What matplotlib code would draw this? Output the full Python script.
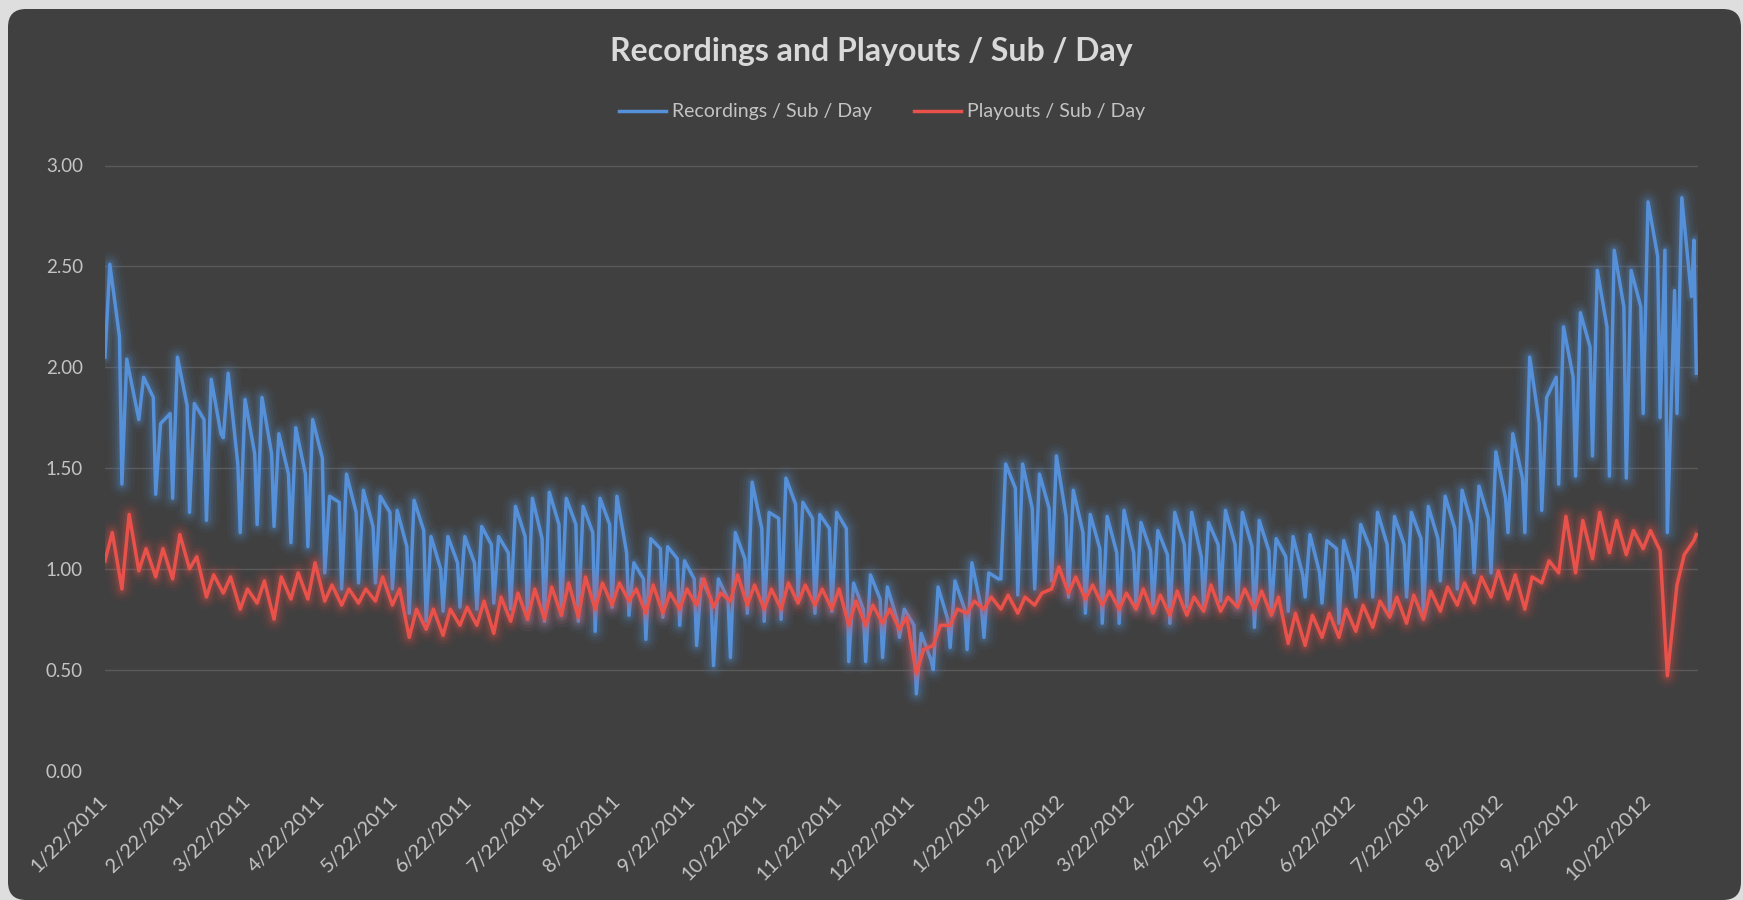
import matplotlib
matplotlib.use("Agg")
import matplotlib.pyplot as plt
import matplotlib.dates as mdates
from matplotlib.patches import FancyBboxPatch
from matplotlib.transforms import IdentityTransform
from matplotlib.lines import Line2D
import numpy as np
import pandas as pd

# first day of the data (a Saturday)
start = pd.Timestamp("2011-01-22")

# Recordings / Sub / Day, one value per week for Saturday, Monday and Friday
rec_sat = [2.05, 1.42, 1.74, 1.37, 1.35, 1.28, 1.24, 1.65, 1.18, 1.22,
           1.21, 1.13, 1.11, 0.98, 0.90, 0.93, 0.93, 0.90, 0.78, 0.74,
           0.79, 0.81, 0.80, 0.83, 0.80, 0.75, 0.74, 0.77, 0.74, 0.69,
           0.81, 0.77, 0.65, 0.76, 0.72, 0.62, 0.52, 0.56, 0.78, 0.74,
           0.75, 0.86, 0.78, 0.79, 0.54, 0.54, 0.56, 0.66, 0.38, 0.50,
           0.61, 0.60, 0.66, 0.95, 0.87, 0.90, 0.94, 0.86, 0.78, 0.73,
           0.73, 0.81, 0.79, 0.73, 0.81, 0.81, 0.84, 0.81, 0.71, 0.78,
           0.79, 0.86, 0.83, 0.73, 0.86, 0.86, 0.79, 0.86, 0.78, 0.94,
           0.90, 0.98, 0.98, 1.18, 1.18, 1.29, 1.42, 1.46, 1.56, 1.46,
           1.45, 1.77, 1.75, 1.77]
rec_mon = [2.51, 2.04, 1.95, 1.72, 2.05, 1.82, 1.94, 1.97, 1.84, 1.85,
           1.67, 1.70, 1.74, 1.36, 1.47, 1.39, 1.36, 1.29, 1.34, 1.16,
           1.16, 1.16, 1.21, 1.16, 1.31, 1.35, 1.38, 1.35, 1.31, 1.35,
           1.36, 1.03, 1.15, 1.11, 1.04, 0.95, 0.95, 1.18, 1.43, 1.28,
           1.45, 1.33, 1.27, 1.28, 0.93, 0.97, 0.91, 0.80, 0.68, 0.91,
           0.94, 1.03, 0.98, 1.52, 1.52, 1.47, 1.56, 1.39, 1.27, 1.26,
           1.29, 1.23, 1.19, 1.28, 1.28, 1.23, 1.29, 1.28, 1.24, 1.15,
           1.16, 1.17, 1.14, 1.14, 1.22, 1.28, 1.26, 1.28, 1.31, 1.36,
           1.39, 1.41, 1.58, 1.67, 2.05, 1.85, 2.20, 2.27, 2.48, 2.58,
           2.48, 2.82, 2.58, 2.84]
rec_fri = [2.15, 1.80, 1.85, 1.77, 1.81, 1.74, 1.67, 1.52, 1.57, 1.57,
           1.47, 1.47, 1.55, 1.33, 1.28, 1.21, 1.28, 1.11, 1.19, 1.00,
           1.03, 1.03, 1.12, 1.08, 1.16, 1.15, 1.22, 1.22, 1.18, 1.22,
           1.08, 0.95, 1.10, 1.05, 0.95, 0.85, 0.85, 1.05, 1.20, 1.25,
           1.32, 1.25, 1.20, 1.20, 0.80, 0.85, 0.75, 0.72, 0.55, 0.75,
           0.80, 0.80, 0.95, 1.40, 1.30, 1.30, 1.26, 1.18, 1.10, 1.08,
           1.08, 1.09, 1.07, 1.12, 1.06, 1.12, 1.12, 1.11, 1.09, 1.06,
           0.97, 0.98, 1.10, 0.98, 1.10, 1.12, 1.12, 1.15, 1.15, 1.20,
           1.22, 1.25, 1.35, 1.45, 1.72, 1.95, 1.95, 2.10, 2.20, 2.30,
           2.30, 2.55, 2.38, 2.35]

# Playouts / Sub / Day, one value per week for Saturday and Tuesday
play_sat = [1.04, 0.90, 0.99, 0.96, 0.95, 1.00, 0.86, 0.88, 0.80, 0.83,
            0.75, 0.85, 0.85, 0.84, 0.82, 0.83, 0.84, 0.82, 0.66, 0.70,
            0.67, 0.72, 0.72, 0.68, 0.74, 0.75, 0.75, 0.77, 0.76, 0.80,
            0.82, 0.84, 0.78, 0.78, 0.80, 0.82, 0.81, 0.84, 0.82, 0.80,
            0.80, 0.83, 0.82, 0.80, 0.72, 0.72, 0.73, 0.70, 0.48, 0.62,
            0.72, 0.78, 0.80, 0.80, 0.78, 0.82, 0.90, 0.88, 0.85, 0.82,
            0.80, 0.80, 0.78, 0.77, 0.77, 0.79, 0.79, 0.81, 0.80, 0.77,
            0.63, 0.62, 0.66, 0.66, 0.69, 0.71, 0.76, 0.73, 0.75, 0.79,
            0.82, 0.83, 0.86, 0.85, 0.80, 0.93, 0.98, 0.98, 1.05, 1.08,
            1.07, 1.10, 1.09, 0.92]
play_tue = [1.18, 1.27, 1.10, 1.10, 1.17, 1.06, 0.97, 0.96, 0.90, 0.94,
            0.96, 0.98, 1.03, 0.92, 0.90, 0.90, 0.96, 0.90, 0.80, 0.80,
            0.80, 0.81, 0.84, 0.86, 0.88, 0.90, 0.91, 0.93, 0.96, 0.93,
            0.93, 0.90, 0.92, 0.88, 0.90, 0.95, 0.88, 0.97, 0.92, 0.90,
            0.93, 0.92, 0.90, 0.90, 0.84, 0.82, 0.80, 0.76, 0.60, 0.72,
            0.80, 0.84, 0.86, 0.87, 0.86, 0.88, 1.01, 0.96, 0.92, 0.89,
            0.88, 0.90, 0.87, 0.89, 0.86, 0.92, 0.86, 0.90, 0.89, 0.86,
            0.78, 0.77, 0.78, 0.80, 0.82, 0.84, 0.86, 0.87, 0.89, 0.91,
            0.93, 0.96, 0.99, 0.97, 0.96, 1.04, 1.26, 1.24, 1.28, 1.24,
            1.19, 1.19, 0.47, 1.07]

# storm day (recordings drop) and the last two days of data
storm_dates = ["2012-10-30"]
rec_storm = [1.18]
tail_dates = ["2012-11-10", "2012-11-11"]
rec_tail = [2.63, 1.97]
play_tail = [1.14, 1.17]

# x axis labels on the 22nd of every month
tick_dates = pd.date_range("2011-01-22", "2012-10-22", freq=pd.DateOffset(months=1))

title = "Recordings and Playouts / Sub / Day"
rec_name = "Recordings / Sub / Day"
play_name = "Playouts / Sub / Day"

BLUE = "#5590d8"
RED = "#e8524a"
TEXT = "#c4c4c4"


def weekly_series(columns, offsets):
    parts = []
    for vals, off in zip(columns, offsets):
        days = start + pd.to_timedelta(np.arange(len(vals)) * 7 + off, unit="D")
        parts.append(pd.Series(vals, index=days))
    return parts


def extra(dates, vals):
    return pd.Series(vals, index=pd.to_datetime(dates))


rec = pd.concat(weekly_series([rec_sat, rec_mon, rec_fri], [0, 2, 6])
                + [extra(storm_dates, rec_storm), extra(tail_dates, rec_tail)]).sort_index()
play = pd.concat(weekly_series([play_sat, play_tue], [0, 3])
                 + [extra(tail_dates, play_tail)]).sort_index()


def glow_line(ax, s, color, z):
    x = mdates.date2num(s.index.to_pydatetime())
    y = s.values
    # soft halo like the Excel glow effect
    for lw, a in [(18, 0.05), (13, 0.07), (9, 0.10), (6, 0.15)]:
        ax.plot(x, y, color=color, lw=lw, alpha=a, solid_joinstyle="round",
                solid_capstyle="round", zorder=z)
    ax.plot(x, y, color=color, lw=2.5, solid_joinstyle="round", zorder=z + 1)


plt.rcParams["font.family"] = ["Lato", "DejaVu Sans"]

fig = plt.figure(figsize=(17.43, 9.0), dpi=100)
fig.patch.set_facecolor("#dedede")

# rounded dark chart background
bg = FancyBboxPatch((8, 0), 1733, 891, boxstyle="round,pad=0,rounding_size=18",
                    transform=IdentityTransform(), facecolor="#404040",
                    edgecolor="none", zorder=-10)
fig.patches.append(bg)

ax = fig.add_axes([105 / 1743, 129.5 / 900, 1593 / 1743, 605 / 900])
ax.set_facecolor("none")
for sp in ax.spines.values():
    sp.set_visible(False)

for v in np.arange(0.5, 3.01, 0.5):
    ax.axhline(v, color="#5a5a5a", lw=1.0, zorder=0)

glow_line(ax, rec, BLUE, 2)
glow_line(ax, play, RED, 4)

x0 = mdates.date2num(start.to_pydatetime())
ax.set_xlim(x0, x0 + 659.7)
ax.set_ylim(0, 3)

ax.set_yticks(np.arange(0, 3.01, 0.5))
ax.set_yticklabels([f"{v:.2f}" for v in np.arange(0, 3.01, 0.5)])
ax.tick_params(axis="y", length=0, pad=16, labelsize=13.5, labelcolor=TEXT)

ax.set_xticks(mdates.date2num(tick_dates.to_pydatetime()))
ax.set_xticklabels([f"{d.month}/{d.day}/{d.year}" for d in tick_dates])
ax.tick_params(axis="x", length=0, pad=20, labelsize=14.5, labelcolor=TEXT)
for lbl in ax.get_xticklabels():
    lbl.set_rotation(45)
    lbl.set_ha("right")
    lbl.set_va("center")
    lbl.set_rotation_mode("anchor")

fig.text(0.5, 1 - 52 / 900, title, ha="center", va="center", fontsize=23,
         fontweight="bold", color="#d9d9d9")

handles = [Line2D([], [], color=BLUE, lw=2.5), Line2D([], [], color=RED, lw=2.5)]
fig.legend(handles, [rec_name, play_name], loc="center", ncol=2,
           bbox_to_anchor=(882 / 1743, 1 - 112 / 900), frameon=False,
           fontsize=14, labelcolor=TEXT, handlelength=2.4, handletextpad=0.3,
           columnspacing=2.2)

fig.savefig("out.png", dpi=100, facecolor=fig.get_facecolor())
